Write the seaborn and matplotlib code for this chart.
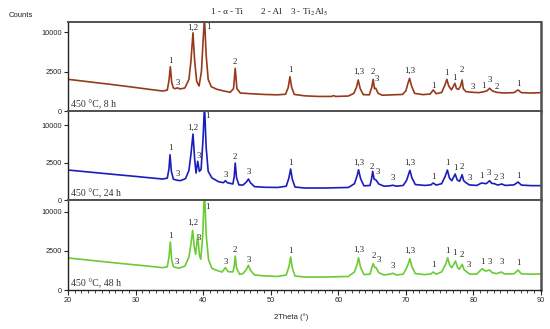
import numpy as np
import pandas as pd
import matplotlib
matplotlib.use("Agg")
import matplotlib.pyplot as plt
import seaborn as sns

# --- data (2Theta in degrees, counts) ---
theta_8h = [20.0, 27.0, 30.0, 32.0, 34.0, 34.7, 34.95, 35.15, 35.35, 35.6, 35.9, 36.2, 36.6,
            37.3, 37.9, 38.2, 38.5, 38.75, 39.05, 39.4, 39.75, 40.0, 40.2, 40.45, 40.75,
            41.2, 42.0, 43.0, 44.0, 44.5, 44.75, 45.0, 45.5, 47.0, 49.0, 51.0, 52.2, 52.6,
            52.85, 53.1, 53.5, 55.0, 57.0, 59.0, 59.3, 59.6, 61.5, 62.3, 62.7, 62.95, 63.25,
            63.7, 64.6, 64.95, 65.17, 65.35, 65.55, 65.9, 66.5, 68.0, 69.5, 70.0, 70.3,
            70.55, 70.85, 71.3, 72.5, 73.6, 74.05, 74.5, 75.3, 75.8, 76.07, 76.35, 76.75,
            77.05, 77.25, 77.5, 77.8, 78.1, 78.33, 78.5, 78.9, 79.9, 80.8, 81.6, 82.0, 82.4,
            82.8, 83.4, 84.5, 86.0, 86.6, 87.1, 88.5, 90.0]
counts_8h = [1610, 1090, 885, 755, 640, 700, 1500, 3140, 1300, 850, 800, 860, 780,
             850, 1600, 4000, 9800, 4000, 1400, 1000, 2500, 8000, 14000, 5000, 1600,
             950, 760, 650, 560, 800, 2920, 800, 520, 480, 440, 420, 450, 900,
             1885, 900, 440, 370, 340, 340, 380, 340, 360, 500, 900, 1540, 800,
             430, 420, 900, 1610, 800, 830, 500, 400, 420, 440, 650, 1200,
             1710, 1000, 500, 430, 460, 710, 480, 550, 1100, 1610, 1000, 720,
             1000, 1230, 800, 750, 1000, 1540, 800, 600, 560, 540, 600, 650, 830,
             650, 560, 520, 540, 710, 540, 520, 540]

theta_24h = [20.0, 27.0, 30.0, 32.0, 34.0, 34.7, 34.95, 35.1, 35.3, 35.6, 36.2, 36.7, 37.4,
             37.9, 38.2, 38.5, 38.75, 38.95, 39.2, 39.45, 39.7, 40.0, 40.2, 40.45, 40.75,
             41.3, 42.3, 43.0, 43.3, 43.6, 44.4, 44.6, 44.75, 44.95, 45.3, 45.9, 46.4, 46.7,
             47.0, 47.6, 49.0, 51.0, 52.3, 52.7, 52.95, 53.2, 53.6, 55.0, 58.0, 61.5, 62.4,
             62.8, 63.0, 63.3, 63.8, 64.7, 64.95, 65.1, 65.3, 65.55, 66.0, 66.8, 67.6, 68.1,
             68.6, 69.6, 70.1, 70.4, 70.6, 70.9, 71.4, 72.8, 73.7, 74.05, 74.5, 75.3, 75.8,
             76.15, 76.45, 76.8, 77.1, 77.3, 77.6, 77.95, 78.15, 78.33, 78.55, 78.9, 79.4,
             80.5, 81.2, 81.9, 82.4, 82.7, 83.1, 83.6, 84.2, 84.7, 86.0, 86.6, 87.1, 88.5, 90.0]
counts_24h = [1640, 1190, 1025, 915, 815, 880, 1800, 3700, 1500, 800, 720, 700, 850,
              1600, 3800, 7800, 3000, 1330, 2710, 1500, 1700, 7000, 16000, 5000, 1500,
              900, 620, 560, 690, 560, 480, 1000, 2480, 900, 430, 420, 600, 815,
              560, 340, 310, 300, 360, 900, 1750, 800, 320, 275, 275, 300, 500,
              1100, 1670, 850, 380, 400, 900, 1500, 800, 760, 480, 360, 380, 410,
              360, 400, 700, 1200, 1610, 900, 450, 400, 430, 540, 420, 500, 1000,
              1640, 900, 690, 1000, 1240, 750, 650, 900, 1170, 700, 560, 430,
              400, 540, 500, 690, 520, 500, 420, 480, 400, 430, 600, 420, 390, 390]

theta_48h = [20.0, 27.0, 30.0, 32.0, 34.0, 34.7, 34.95, 35.15, 35.35, 35.6, 36.05, 36.5, 37.3,
             37.9, 38.2, 38.45, 38.7, 38.9, 39.2, 39.45, 39.65, 39.95, 40.2, 40.45, 40.8,
             41.3, 42.3, 42.8, 43.3, 43.7, 44.4, 44.6, 44.75, 44.95, 45.4, 45.9, 46.4, 46.7,
             47.0, 47.6, 49.0, 51.0, 52.3, 52.7, 52.95, 53.2, 53.6, 55.0, 58.0, 61.5, 62.4,
             62.8, 63.0, 63.3, 63.8, 64.7, 64.95, 65.15, 65.4, 65.6, 66.0, 66.8, 67.6, 68.1,
             68.6, 69.6, 70.1, 70.4, 70.6, 70.9, 71.4, 72.8, 73.7, 74.05, 74.5, 75.3, 75.9,
             76.2, 76.5, 76.8, 77.1, 77.35, 77.65, 77.9, 78.15, 78.35, 78.6, 79.0, 79.5,
             80.5, 81.3, 81.8, 82.4, 82.8, 83.4, 84.15, 84.6, 86.0, 86.6, 87.1, 88.5, 90.0]
counts_48h = [1690, 1215, 1045, 940, 830, 900, 1800, 3780, 1500, 900, 830, 800, 950,
              1800, 3500, 5830, 3000, 2100, 4900, 2000, 1560, 5000, 17000, 5000, 1500,
              780, 600, 540, 830, 560, 550, 900, 1900, 800, 415, 450, 700, 1010,
              650, 380, 340, 310, 380, 900, 1795, 800, 330, 285, 285, 310, 550,
              1100, 1720, 850, 400, 420, 800, 1145, 850, 830, 500, 380, 420, 470,
              380, 420, 800, 1200, 1620, 900, 450, 400, 430, 540, 420, 550, 1100,
              1720, 1000, 830, 1100, 1390, 850, 715, 900, 1095, 700, 550, 420,
              430, 755, 600, 665, 500, 450, 540, 430, 440, 665, 440, 420, 430]

# phase labels: 1 - alpha-Ti, 2 - Al, 3 - Ti2Al5
lab_x_8h = [35.1, 36.2, 38.5, 40.76, 44.75, 52.85, 63.1, 65.17, 65.75, 70.6, 74.05,
            76.07, 77.25, 78.33, 79.9, 81.55, 82.47, 83.46, 86.6]
lab_y_8h = [3390, 950, 10080, 10380, 3245, 2160, 1960, 1960, 1230, 2080, 710,
            1890, 1375, 2160, 660, 710, 1170, 660, 830]
lab_t_8h = ["1", "3", "1,2", "1", "2", "1", "1,3", "2", "3", "1,3", "1",
            "1", "1", "2", "3", "1", "3", "2", "1"]

lab_x_24h = [35.1, 36.2, 38.5, 39.33, 40.66, 43.3, 44.75, 46.7, 52.95, 63.0, 65.0, 65.9,
             68.1, 70.6, 74.05, 76.15, 77.3, 78.35, 79.4, 81.2, 82.3, 83.25, 84.2, 86.6]
lab_y_24h = [4100, 890, 8450, 2935, 11510, 840, 2795, 1030, 1945, 2060, 1570, 1030,
             605, 1980, 690, 1945, 1400, 1570, 605, 760, 975, 605, 650, 760]
lab_t_24h = ["1", "3", "1,2", "3", "1", "3", "2", "3", "1", "1,3", "2", "3",
             "3", "1,3", "1", "1", "1", "2", "3", "1", "3", "2", "3", "1"]

lab_x_48h = [35.15, 36.05, 38.5, 39.33, 40.66, 43.35, 44.75, 46.7, 52.95, 63.0, 65.2, 66.0,
             68.1, 70.6, 74.05, 76.2, 77.25, 78.35, 79.35, 81.3, 82.4, 84.2, 86.6]
lab_y_48h = [4100, 955, 6550, 3780, 10180, 955, 2100, 1145, 1980, 2100, 1460, 1095,
             665, 2015, 715, 1980, 1795, 1555, 755, 955, 955, 955, 900]
lab_t_48h = ["1", "3", "1,2", "3", "1", "3", "2", "3", "1", "1,3", "2", "3",
             "3", "1,3", "1", "1", "1", "2", "3", "1", "3", "3", "1"]

panel_names = ["450 \u00b0C, 8 h", "450 \u00b0C, 24 h", "450 \u00b0C, 48 h"]
panel_colors = ["#963a1c", "#1c1cbd", "#6ccb35"]
panel_ymax = [12700, 14150, 13050]
y_ticks = [0, 2500, 10000]
x_ticks = [20, 30, 40, 50, 60, 70, 80, 90]

sns.set_style("white")
plt.rcParams["font.family"] = ["Liberation Sans", "DejaVu Sans"]
plt.rcParams["mathtext.fontset"] = "stix"
serif = ["Liberation Serif", "DejaVu Serif"]

fig = plt.figure(figsize=(5.5, 3.29), dpi=100)

# panel boxes (figure fractions), top to bottom
boxes = [(0.1236, 0.6626, 0.86, 0.2705),
         (0.1236, 0.3906, 0.86, 0.2720),
         (0.1236, 0.1176, 0.86, 0.2730)]

series = [(theta_8h, counts_8h, lab_x_8h, lab_y_8h, lab_t_8h),
          (theta_24h, counts_24h, lab_x_24h, lab_y_24h, lab_t_24h),
          (theta_48h, counts_48h, lab_x_48h, lab_y_48h, lab_t_48h)]

sqrt_scale = (lambda v: np.sqrt(np.clip(v, 0, None)), lambda v: np.square(v))

for i, (box, (tx, cy, lx, ly, lt)) in enumerate(zip(boxes, series)):
    ax = fig.add_axes(box)
    df = pd.DataFrame({"theta": tx, "counts": cy})
    sns.lineplot(data=df, x="theta", y="counts", ax=ax, color=panel_colors[i],
                 linewidth=1.2, sort=False)
    ax.set_yscale("function", functions=sqrt_scale)
    ax.set_xlim(20, 90)
    ax.set_ylim(0, panel_ymax[i])
    ax.set_yticks(y_ticks)
    ax.set_yticklabels([str(t) for t in y_ticks])
    ax.set_xlabel("")
    ax.set_ylabel("")
    ax.tick_params(axis="y", direction="out", length=3, width=0.8, pad=1.5,
                   labelsize=5.3, left=True)
    if i < 2:
        ax.tick_params(axis="x", bottom=False, labelbottom=False)
    else:
        ax.set_xticks(x_ticks)
        ax.set_xticks(np.arange(20, 91, 1), minor=True)
        ax.tick_params(axis="x", which="major", direction="out", length=3.5,
                       width=0.8, pad=1.5, labelsize=5.3, bottom=True)
        ax.tick_params(axis="x", which="minor", direction="out", length=2,
                       width=0.6, bottom=True)
    for side in ["top", "bottom", "right"]:
        ax.spines[side].set_color("#505050")
        ax.spines[side].set_linewidth(1.4)
    ax.spines["right"].set_linewidth(1.8)
    ax.spines["left"].set_color("#222222")
    ax.spines["left"].set_linewidth(1.0)
    if i == 2:
        ax.spines["bottom"].set_color("#222222")
        ax.spines["bottom"].set_linewidth(1.0)

    for x, y, t in zip(lx, ly, lt):
        ax.text(x, y, t, ha="center", va="bottom", fontsize=6.3,
                family=serif, color="#222222")
    ax.text(0.007, 0.02, panel_names[i], transform=ax.transAxes, ha="left",
            va="bottom", fontsize=7, family=serif, color="#333333")

fig.text(9 / 550, 1 - 15.5 / 329, "Counts", fontsize=5.5, ha="left", va="center",
         color="#222222")
fig.text(211 / 550, 1 - 12 / 329, "1 - \u03b1 - Ti", fontsize=6.6, family=serif,
         ha="left", va="center", color="#222222")
fig.text(261 / 550, 1 - 12 / 329, "2 - Al", fontsize=6.6, family=serif,
         ha="left", va="center", color="#222222")
fig.text(290 / 550, 1 - 12 / 329, "3 - Ti$_2$Al$_5$", fontsize=6.6, family=serif,
         ha="left", va="center", color="#222222")
fig.text(291 / 550, 1 - 317 / 329, "2Theta (\u00b0)", fontsize=5.5, ha="center",
         va="center", color="#222222")

plt.savefig("out.png", dpi=100)
